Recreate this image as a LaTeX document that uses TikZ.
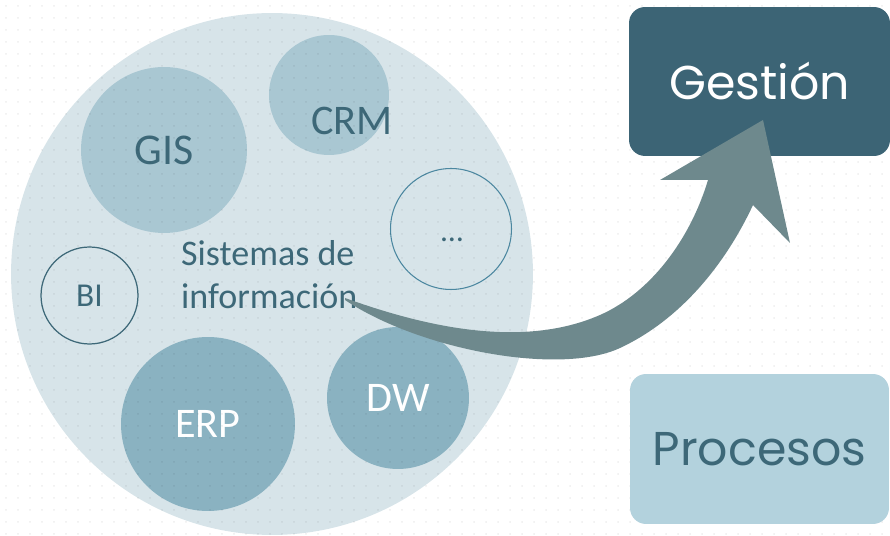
\documentclass[tikz,border=0pt]{standalone}
\usepackage{fontspec}
\setmainfont{Carlito}
\newfontfamily\gothic{Poppins}
\definecolor{circbg}{HTML}{D7E4E9}
\definecolor{circlight}{HTML}{A9C7D2}
\definecolor{circmid}{HTML}{8AB2C1}
\definecolor{textdark}{HTML}{3D6878}
\definecolor{boxdark}{HTML}{3C6475}
\definecolor{boxlight}{HTML}{B3D2DD}
\definecolor{arrowc}{HTML}{6E898D}
\definecolor{rimblue}{HTML}{4B87A0}

\tikzset{
  sysc/.style={circle, inner sep=0pt, font=\fontsize{24}{26}\selectfont, text=textdark},
  topbox/.style={rounded corners=0.32cm, inner sep=0pt, font=\gothic\fontsize{27}{30}\selectfont}
}

\begin{document}
\begin{tikzpicture}[x=0.02cm, y=-0.02cm]
        \useasboundingbox (0,0) rectangle (890,536);

        \node[sysc, fill=circbg, minimum size=10.44cm] (sis) at (272,274) {};

        \node[sysc, fill=circlight, minimum size=3.32cm, font=\fontsize{25}{26}\selectfont] (gis) at (164,150) {GIS};
        \node[sysc, fill=circlight, minimum size=2.4cm] (crm) at (329,95) {};
        \node[text=textdark, font=\fontsize{24}{26}\selectfont] (crmtext) at (352,121) {CRM};
        \node[sysc, draw=rimblue, line width=0.6pt, minimum size=2.42cm] (more) at (451,229) {};
        \node[text=textdark, font=\fontsize{18}{20}\selectfont] (moretext) at (452,240) {…};
        \node[sysc, draw=textdark, line width=0.7pt, minimum size=1.94cm,
              font=\fontsize{19}{20}\selectfont] (bi) at (89.5,295.5) {BI};
        \node[sysc, fill=circmid, text=white, minimum size=3.48cm] (erp) at (208,424) {\raisebox{-2pt}{ERP}};
        \node[sysc, fill=circmid, text=white, minimum size=2.84cm] (dw) at (398,398) {DW};

        \foreach \x in {6,18,...,890}
          \foreach \y in {6,18,...,536}
            \fill[black, opacity=0.07] (\x,\y) circle (1);

        \node[anchor=west, align=left, text=textdark,
              font=\fontsize{20.5}{24.5}\selectfont] (sistext) at (175,275) {Sistemas de\\información};

        \node[topbox, fill=boxdark, text=white, minimum width=5.22cm, minimum height=2.98cm]
              (gestion) at (759.5,81.5) {Gestión};
        \node[topbox, fill=boxlight, text=textdark, minimum width=5.18cm, minimum height=3cm]
              (procesos) at (759.5,449) {Procesos};

        \fill[arrowc] (345,298) .. controls (420,325) and (520,350) .. (600,315)
              .. controls (650,293) and (690,240) .. (708,180)
              -- (660,180) -- (763,120) -- (790,243) -- (753,205)
              .. controls (725,265) and (680,320) .. (620,348)
              .. controls (560,376) and (420,350) .. (345,300) -- cycle;
      \end{tikzpicture}
\end{document}
